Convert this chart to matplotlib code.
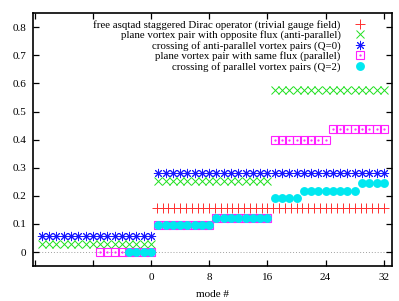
import matplotlib
matplotlib.use("Agg")
import matplotlib.pyplot as plt

plt.rcParams["font.family"] = ["Liberation Serif", "DejaVu Serif"]

# free operator (40 modes spread over the positive range)
free_x = [0.8 * k for k in range(1, 41)]
free_y = [0.155] * 40

# anti-parallel plane vortex pair
anti_x = list(range(-15, 1)) + list(range(1, 33))
anti_y = [0.028] * 16 + [0.252] * 16 + [0.577] * 16

# crossing of anti-parallel pairs (Q=0)
cross0_x = list(range(-15, 1)) + list(range(1, 33))
cross0_y = [0.057] * 16 + [0.280] * 32

# parallel plane vortex pair
par_x = list(range(-7, 1)) + list(range(1, 33))
par_y = [0.0] * 8 + [0.098] * 8 + [0.122] * 8 + [0.398] * 8 + [0.438] * 8

# crossing of parallel pairs (Q=2)
cross2_x = list(range(-3, 1)) + list(range(1, 33))
cross2_y = [0.0] * 4 + [0.098] * 8 + [0.122] * 8 + [0.194] * 4 + [0.219] * 8 + [0.244] * 4

labels = [
    "free asqtad staggered Dirac operator (trivial gauge field)",
    "plane vortex pair with opposite flux (anti-parallel)",
    "crossing of anti-parallel vortex pairs (Q=0)",
    "plane vortex pair with same flux (parallel)",
    "crossing of parallel vortex pairs (Q=2)",
]

fig = plt.figure(figsize=(3.99, 3.01), dpi=100)
ax = fig.add_axes((0.083, 0.116, 0.899, 0.840))

ax.axhline(0, color="#a0a0a0", ls=(0, (1, 2)), lw=0.7, zorder=0)

h1, = ax.plot(free_x, free_y, ls="none", marker="+", ms=7, mew=0.7, color="#ff3030")
h2, = ax.plot(anti_x, anti_y, ls="none", marker="x", ms=6.3, mew=0.7, color="#20e020")
h3, = ax.plot(cross0_x, cross0_y, ls="none", marker=(8, 2, 0), ms=6.6, mew=0.7, color="#1818ff")
h4, = ax.plot(par_x, par_y, ls="none", marker="s", ms=5.8, mew=0.8, mfc="none", color="#ff20ff")
h4d, = ax.plot(par_x, par_y, ls="none", marker=".", ms=1.2, color="#ff20ff")
h5, = ax.plot(cross2_x, cross2_y, ls="none", marker="o", ms=6.4, mew=0, color="#00e8f0")

ax.set_xlim(-16.2, 33.1)
ax.set_ylim(-0.05, 0.85)
ax.set_xticks([-16, -8, 0, 8, 16, 24, 32])
ax.set_xticklabels(["", "", "0", "8", "16", "24", "32"])
ax.set_yticks([0, 0.1, 0.2, 0.3, 0.4, 0.5, 0.6, 0.7, 0.8])
ax.set_yticklabels(["0", "0.1", "0.2", "0.3", "0.4", "0.5", "0.6", "0.7", "0.8"])
ax.tick_params(direction="in", top=True, right=True, length=4, width=0.9,
               labelsize=8, pad=5)
for s in ax.spines.values():
    s.set_linewidth(1.2)
ax.set_xlabel("mode #", fontsize=8, labelpad=6)

ax.legend([h1, h2, h3, (h4, h4d), h5], labels, loc="upper right",
          bbox_to_anchor=(0.945, 1.0), frameon=False, markerfirst=False,
          fontsize=7.8, handlelength=1.0, handletextpad=1.3,
          labelspacing=0.05, borderpad=0.1)

fig.savefig("out.png", dpi=100)
